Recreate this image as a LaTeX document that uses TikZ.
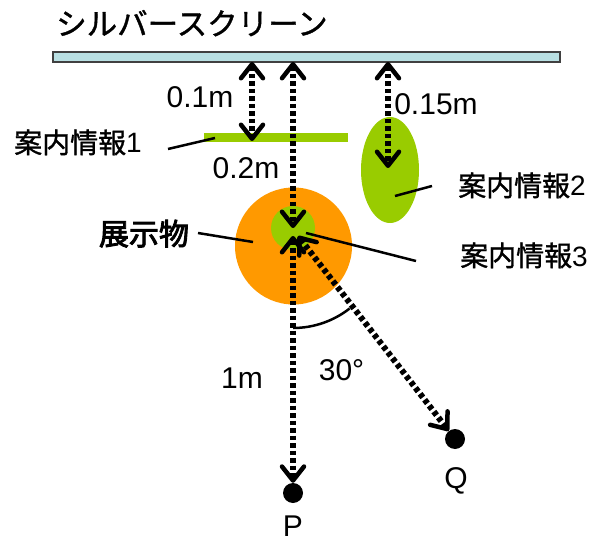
\documentclass[tikz,border=0pt]{standalone}
\usepackage{fontspec}
\setmainfont{Liberation Sans}
\newfontfamily\jp[FakeBold=1.2]{Noto Sans CJK JP}
\newfontfamily\jpbold[FakeBold=3]{Noto Sans CJK JP}
\usetikzlibrary{arrows.meta,shapes.geometric}
\definecolor{screenblue}{HTML}{B9E0E3}
\definecolor{screenedge}{HTML}{404040}
\definecolor{leafgreen}{HTML}{99CC00}
\definecolor{exhorange}{HTML}{FF9900}
\tikzset{
  barb/.tip={Straight Barb[length=14pt,width=22pt,line width=4.5pt,round]},
  dimarrow/.style={line width=6pt, dash pattern=on 4.5pt off 3pt, barb-barb},
  leader/.style={line width=2.5pt},
  lab/.style={font=\fontsize{30}{32}\selectfont, inner sep=0pt, anchor=base},
  jlab/.style={font=\fontsize{28}{30}\selectfont, inner sep=0pt, anchor=base},
  dot/.style={circle, fill=black, minimum size=20pt, inner sep=0pt},
}
\begin{document}
\begin{tikzpicture}[x=1pt,y=1pt]
\useasboundingbox (0,0) rectangle (592,542);
% screen
\node[draw=screenedge, fill=screenblue, line width=1.2pt, minimum width=507pt, minimum height=10pt, inner sep=0pt] (screen) at (306.5,485) {};
\node[jlab, font=\fontsize{30.5}{32}\selectfont, anchor=base west] (title) at (56,507) {\jp シルバースクリーン};
% shapes
\node[rectangle, fill=leafgreen, minimum width=144pt, minimum height=9pt, inner sep=0pt] (info1) at (276,404) {};
\node[ellipse, fill=leafgreen, minimum width=58pt, minimum height=106pt, inner sep=0pt] (info2) at (390,372) {};
\node[circle, fill=exhorange, minimum size=117pt, inner sep=0pt] (exhibit) at (293.5,296) {};
\node[circle, fill=leafgreen, minimum size=44pt, inner sep=0pt] (info3) at (293,314) {};
% points
\node[dot] (P) at (293,49) {};
\node[dot] (Q) at (455,103) {};
% arrow ends
\coordinate (s1) at (252,480);
\coordinate (t1) at (252,401);
\coordinate (s2) at (293,480);
\coordinate (t2) at (293,314);
\coordinate (s3) at (388,480);
\coordinate (t3) at (388,374);
\coordinate (apex) at (293,306);
\coordinate (apexq) at (298,306);
% dimension arrows
\draw[dimarrow] (s1) -- (t1);
\draw[dimarrow] (s2) -- (t2);
\draw[dimarrow] (s3) -- (t3);
\draw[dimarrow] (apex) -- (P);
\draw[dimarrow] (apexq) -- (Q);
% angle arc
\draw[leader] ([shift={(-90:92pt)}]apex) arc[start angle=-90, end angle=-52, radius=92pt];
% labels
\node[lab] (l01) at (200,434) {0.1m};
\node[lab] (l015) at (436,427) {0.15m};
\node[lab] (l02) at (246,363) {0.2m};
\node[lab] (l1m) at (242,154) {1m};
\node[lab] (l30) at (341.5,162) {30°};
\node[lab] (lp) at (293,6) {P};
\node[lab] (lq) at (456,53.5) {Q};
\node[jlab] (n1) at (78,389) {{\jp 案内情報}1};
\node[jlab] (n2) at (522,346) {{\jp 案内情報}2};
\node[jlab] (n3) at (524,276) {{\jp 案内情報}3};
\node[jlab, font=\fontsize{30}{32}\selectfont] (n4) at (144,297) {\jpbold 展示物};
% leader lines
\coordinate (a1) at (168,393);
\coordinate (b1) at (215,404);
\coordinate (a2) at (395,346);
\coordinate (b2) at (432,356);
\coordinate (a4) at (198,309);
\coordinate (b4) at (253,300);
\coordinate (a3) at (306,309);
\coordinate (b3) at (416,281);
\draw[leader] (a1) -- (b1);
\draw[leader] (a2) -- (b2);
\draw[leader] (a4) -- (b4);
\draw[leader] (a3) -- (b3);
\end{tikzpicture}
\end{document}
